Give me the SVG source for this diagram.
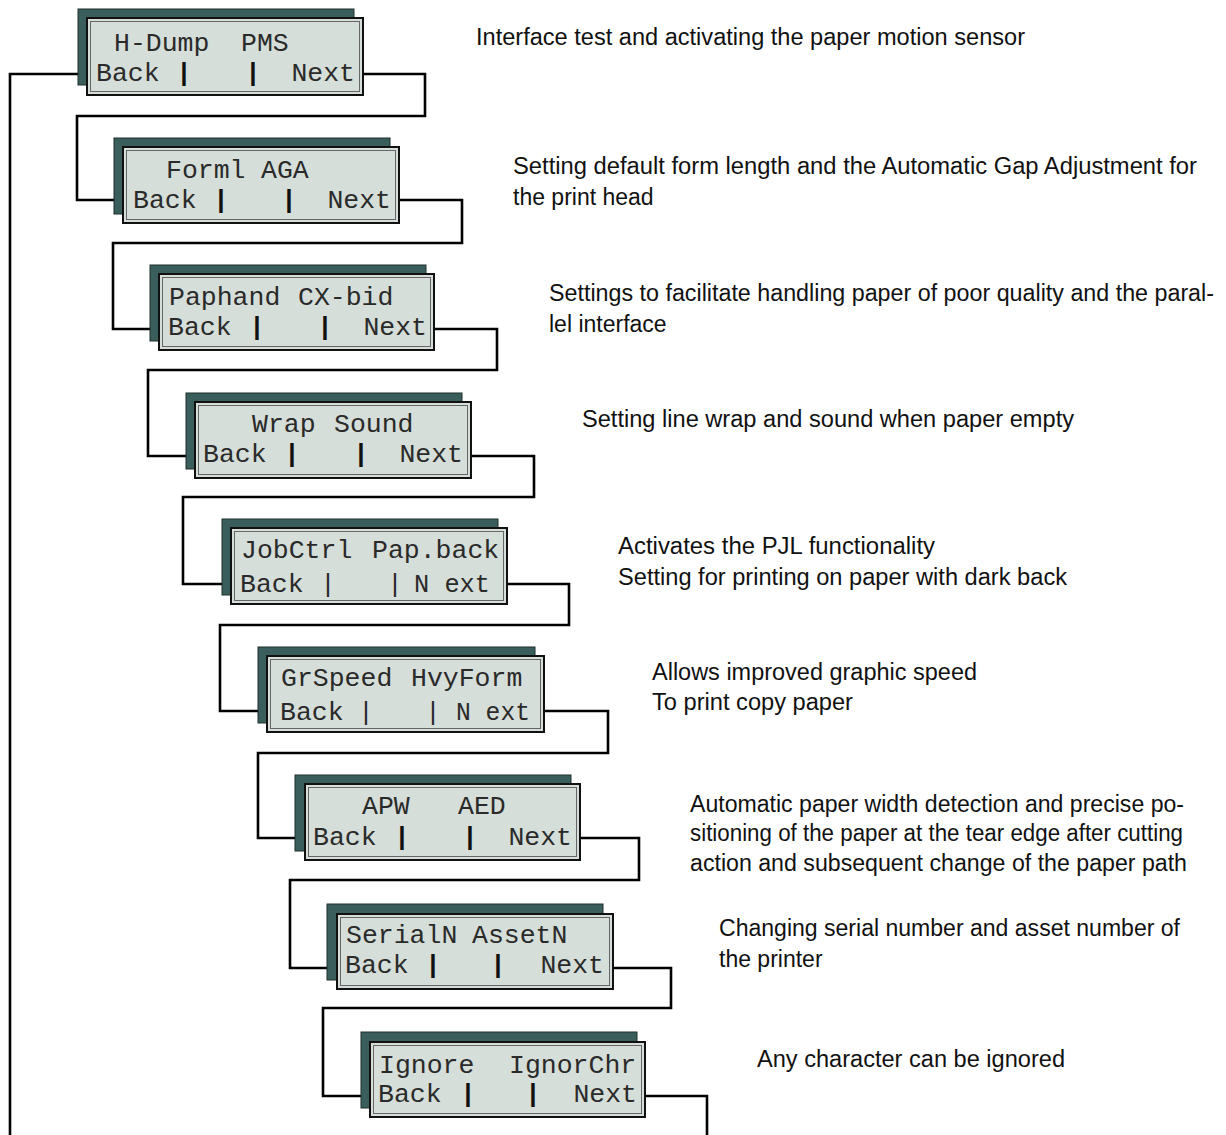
<svg xmlns="http://www.w3.org/2000/svg" width="1226" height="1135" viewBox="0 0 1226 1135">
<style>
.sh{fill:#3a5e5b;stroke:#1e2e2c;stroke-width:1}
.pn{fill:#d5ded8;stroke:#111;stroke-width:2}
.pi{fill:none;stroke:#666;stroke-width:1}
.m{font-family:"Liberation Mono","Courier New",monospace;font-size:26.5px;fill:#2a2a2a}
.b{font-weight:bold;fill:#111}
.d{font-family:"Liberation Sans",Arial,sans-serif;font-size:23px;fill:#111}
.c{fill:none;stroke:#000;stroke-width:2.6;stroke-linejoin:miter}
</style>
<rect width="1226" height="1135" fill="#fff"/>
<g id="connectors">
<path class="c" d="M10 1135 V74 H78"/>
<path class="c" d="M363 74 H425 V116 H77 V200 H114"/>
<path class="c" d="M398 200 H462 V243 H113 V329 H150"/>
<path class="c" d="M433 329 H497 V370 H148 V456 H186"/>
<path class="c" d="M471 456 H534 V497 H183 V584 H222"/>
<path class="c" d="M507 584 H569 V625 H220 V711 H258"/>
<path class="c" d="M544 711 H608 V753 H258 V838 H295"/>
<path class="c" d="M580 838 H639 V880 H290 V968 H327"/>
<path class="c" d="M613 968 H671 V1008 H323 V1096 H361"/>
<path class="c" d="M645 1096 H707 V1135"/>
</g>
<g id="node1">
<rect class="sh" x="78" y="9" width="276" height="76"/>
<rect class="pn" x="87" y="18" width="276" height="77"/>
<rect class="pi" x="90.5" y="21.5" width="269" height="70"/>
<text class="m" x="114" y="51">H-Dump</text><text class="m" x="241" y="51">PMS</text>
<text class="m" x="96" y="81">Back</text><text class="m b" x="176" y="81">|</text><text class="m b" x="245" y="81">|</text><text class="m" x="355" y="81" text-anchor="end">Next</text>
</g>
<g id="node2">
<rect class="sh" x="114" y="138" width="276" height="76"/>
<rect class="pn" x="123" y="147" width="276" height="76"/>
<rect class="pi" x="126.5" y="150.5" width="269" height="69"/>
<text class="m" x="166" y="178">Forml</text><text class="m" x="261" y="178">AGA</text>
<text class="m" x="133" y="208">Back</text><text class="m b" x="213" y="208">|</text><text class="m b" x="281" y="208">|</text><text class="m" x="391" y="208" text-anchor="end">Next</text>
</g>
<g id="node3">
<rect class="sh" x="150" y="265" width="276" height="76"/>
<rect class="pn" x="159" y="274" width="275" height="76"/>
<rect class="pi" x="162.5" y="277.5" width="268" height="69"/>
<text class="m" x="169" y="305">Paphand</text><text class="m" x="298" y="305">CX-bid</text>
<text class="m" x="168" y="335">Back</text><text class="m b" x="249" y="335">|</text><text class="m b" x="317" y="335">|</text><text class="m" x="427" y="335" text-anchor="end">Next</text>
</g>
<g id="node4">
<rect class="sh" x="186" y="393" width="276" height="76"/>
<rect class="pn" x="195" y="402" width="276" height="76"/>
<rect class="pi" x="198.5" y="405.5" width="269" height="69"/>
<text class="m" x="252" y="432">Wrap</text><text class="m" x="334" y="432">Sound</text>
<text class="m" x="203" y="462">Back</text><text class="m b" x="284" y="462">|</text><text class="m b" x="353" y="462">|</text><text class="m" x="463" y="462" text-anchor="end">Next</text>
</g>
<g id="node5">
<rect class="sh" x="222" y="519" width="276" height="76"/>
<rect class="pn" x="231" y="528" width="276" height="76"/>
<rect class="pi" x="234.5" y="531.5" width="269" height="69"/>
<text class="m" x="241" y="558">JobCtrl</text><text class="m" x="372" y="558">Pap.back</text>
<text class="m" x="240" y="592">Back</text><text class="m" x="320" y="592">|</text><text class="m" x="387" y="592">|</text><text class="m" x="414" y="592" textLength="76" lengthAdjust="spacingAndGlyphs">N ext</text>
</g>
<g id="node6">
<rect class="sh" x="258" y="647" width="277" height="76"/>
<rect class="pn" x="267" y="656" width="277" height="76"/>
<rect class="pi" x="270.5" y="659.5" width="270" height="69"/>
<text class="m" x="281" y="686">GrSpeed</text><text class="m" x="411" y="686">HvyForm</text>
<text class="m" x="280" y="720">Back</text><text class="m" x="358" y="720">|</text><text class="m" x="425" y="720">|</text><text class="m" x="456" y="720" textLength="74" lengthAdjust="spacingAndGlyphs">N ext</text>
</g>
<g id="node7">
<rect class="sh" x="295" y="775" width="276" height="76"/>
<rect class="pn" x="305" y="784" width="275" height="76"/>
<rect class="pi" x="308.5" y="787.5" width="268" height="69"/>
<text class="m" x="362" y="814">APW</text><text class="m" x="458" y="814">AED</text>
<text class="m" x="313" y="845">Back</text><text class="m b" x="394" y="845">|</text><text class="m b" x="462" y="845">|</text><text class="m" x="572" y="845" text-anchor="end">Next</text>
</g>
<g id="node8">
<rect class="sh" x="327" y="904" width="276" height="76"/>
<rect class="pn" x="337" y="914" width="276" height="75"/>
<rect class="pi" x="340.5" y="917.5" width="269" height="68"/>
<text class="m" x="346" y="943">SerialN</text><text class="m" x="472" y="943">AssetN</text>
<text class="m" x="345" y="973">Back</text><text class="m b" x="425" y="973">|</text><text class="m b" x="490" y="973">|</text><text class="m" x="604" y="973" text-anchor="end">Next</text>
</g>
<g id="node9">
<rect class="sh" x="361" y="1032" width="276" height="76"/>
<rect class="pn" x="370" y="1042" width="275" height="75"/>
<rect class="pi" x="373.5" y="1045.5" width="268" height="68"/>
<text class="m" x="379" y="1073">Ignore</text><text class="m" x="509" y="1073">IgnorChr</text>
<text class="m" x="378" y="1102">Back</text><text class="m b" x="460" y="1102">|</text><text class="m b" x="525" y="1102">|</text><text class="m" x="637" y="1102" text-anchor="end">Next</text>
</g>
<g id="descriptions">
<text class="d" x="476" y="45" textLength="549" lengthAdjust="spacingAndGlyphs">Interface test and activating the paper motion sensor</text>
<text class="d" x="513" y="174" textLength="684" lengthAdjust="spacingAndGlyphs">Setting default form length and the Automatic Gap Adjustment for</text>
<text class="d" x="513" y="205">the print head</text>
<text class="d" x="549" y="301" textLength="665" lengthAdjust="spacingAndGlyphs">Settings to facilitate handling paper of poor quality and the paral-</text>
<text class="d" x="549" y="332">lel interface</text>
<text class="d" x="582" y="427" textLength="492" lengthAdjust="spacingAndGlyphs">Setting line wrap and sound when paper empty</text>
<text class="d" x="618" y="554" textLength="317" lengthAdjust="spacingAndGlyphs">Activates the PJL functionality</text>
<text class="d" x="618" y="585" textLength="449" lengthAdjust="spacingAndGlyphs">Setting for printing on paper with dark back</text>
<text class="d" x="652" y="680" textLength="325" lengthAdjust="spacingAndGlyphs">Allows improved graphic speed</text>
<text class="d" x="652" y="710" textLength="201" lengthAdjust="spacingAndGlyphs">To print copy paper</text>
<text class="d" x="690" y="812" textLength="494" lengthAdjust="spacingAndGlyphs">Automatic paper width detection and precise po-</text>
<text class="d" x="690" y="841" textLength="493" lengthAdjust="spacingAndGlyphs">sitioning of the paper at the tear edge after cutting</text>
<text class="d" x="690" y="871" textLength="497" lengthAdjust="spacingAndGlyphs">action and subsequent change of the paper path</text>
<text class="d" x="719" y="936" textLength="461" lengthAdjust="spacingAndGlyphs">Changing serial number and asset number of</text>
<text class="d" x="719" y="967">the printer</text>
<text class="d" x="757" y="1067" textLength="308" lengthAdjust="spacingAndGlyphs">Any character can be ignored</text>
</g>
</svg>
